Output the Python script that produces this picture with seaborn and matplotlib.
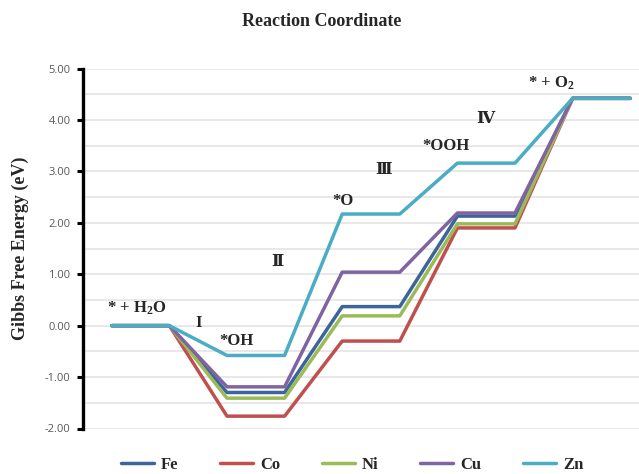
import matplotlib
matplotlib.use("Agg")
import matplotlib.pyplot as plt
from matplotlib.ticker import MultipleLocator, FormatStrFormatter
import seaborn as sns
import pandas as pd

# reaction steps (each state is drawn as a flat segment: two points)
steps = list(range(10))
catalysts = ["Fe", "Co", "Ni", "Cu", "Zn"]
fe = [0.00, 0.00, -1.30, -1.30, 0.37, 0.37, 2.13, 2.13, 4.42, 4.42]
co = [0.00, 0.00, -1.76, -1.76, -0.30, -0.30, 1.90, 1.90, 4.42, 4.42]
ni = [0.00, 0.00, -1.41, -1.41, 0.19, 0.19, 1.98, 1.98, 4.42, 4.42]
cu = [0.00, 0.00, -1.19, -1.19, 1.04, 1.04, 2.19, 2.19, 4.42, 4.42]
zn = [0.00, 0.00, -0.58, -0.58, 2.17, 2.17, 3.16, 3.16, 4.42, 4.42]
colors = ["#3B659B", "#C0504D", "#9BBB59", "#8064A2", "#4BACC6"]

labels = ["* + H$_2$O", "I", "*OH", "Ⅱ", "*O", "Ⅲ", "*OOH", "Ⅳ", "* + O$_2$"]
label_x = [0.43, 1.51, 2.17, 2.88, 4.01, 4.71, 5.80, 6.48, 7.63]
label_y = [0.34, 0.05, -0.30, 1.24, 2.43, 3.03, 3.49, 4.02, 4.72]

df = pd.DataFrame({
    "step": steps * 5,
    "energy": fe + co + ni + cu + zn,
    "catalyst": sum([[c] * len(steps) for c in catalysts], []),
})

sns.set_style("white")
plt.rcParams["mathtext.fontset"] = "custom"
plt.rcParams["mathtext.rm"] = "Liberation Serif:bold"
plt.rcParams["mathtext.it"] = "Liberation Serif:bold"
plt.rcParams["mathtext.bf"] = "Liberation Serif:bold"
plt.rcParams["mathtext.default"] = "rm"
serif = ["Liberation Serif", "DejaVu Serif"]

fig = plt.figure(figsize=(6.39, 4.74), dpi=100)
ax = fig.add_axes([83 / 639, 1 - 428.5 / 474, (659 - 83) / 639, (428.5 - 68.5) / 474])

sns.lineplot(data=df, x="step", y="energy", hue="catalyst", hue_order=catalysts,
             palette=colors, linewidth=2.5, ax=ax, legend=False)

ax.set_xlim(-0.5, 9.5)
ax.set_ylim(-2, 5)
ax.yaxis.set_major_locator(MultipleLocator(1))
ax.yaxis.set_minor_locator(MultipleLocator(0.5))
ax.yaxis.set_major_formatter(FormatStrFormatter("%.2f"))
ax.grid(True, axis="y", which="both", color="#E6E6E6", linewidth=1.3)
ax.set_axisbelow(True)
ax.set_xticks([])
ax.set_xlabel("")
ax.set_ylabel("Gibbs Free Energy (eV)", family=serif, fontweight="bold",
              fontsize=13, labelpad=11)
for s in ["top", "right", "bottom"]:
    ax.spines[s].set_visible(False)
ax.spines["left"].set_color("black")
ax.spines["left"].set_linewidth(2.4)
ax.tick_params(axis="y", which="major", direction="out", length=4, width=2.2,
               color="black", left=True, labelsize=8, labelcolor="#595959", pad=5)
ax.tick_params(axis="y", which="minor", length=0)
for t in ax.get_yticklabels():
    t.set_family(["Open Sans", "DejaVu Sans"])

for txt, x, y in zip(labels, label_x, label_y):
    ax.text(x, y, txt, ha="center", va="center", fontsize=12, fontweight="bold",
            family=["Liberation Serif", "DejaVu Serif", "Noto Sans CJK SC"])

fig.text(322 / 639, 1 - 21 / 474, "Reaction Coordinate", ha="center", va="center",
         family=serif, fontweight="bold", fontsize=13)

handles = [plt.Line2D([], [], color=c, linewidth=2.5) for c in colors]
fig.legend(handles, catalysts, loc="center", bbox_to_anchor=(352 / 639, 1 - 465 / 474),
           ncol=5, frameon=False, columnspacing=2.5, handlelength=2.0, handletextpad=0.4,
           prop={"family": serif, "weight": "bold", "size": 12})

fig.savefig("out.png", dpi=100)
